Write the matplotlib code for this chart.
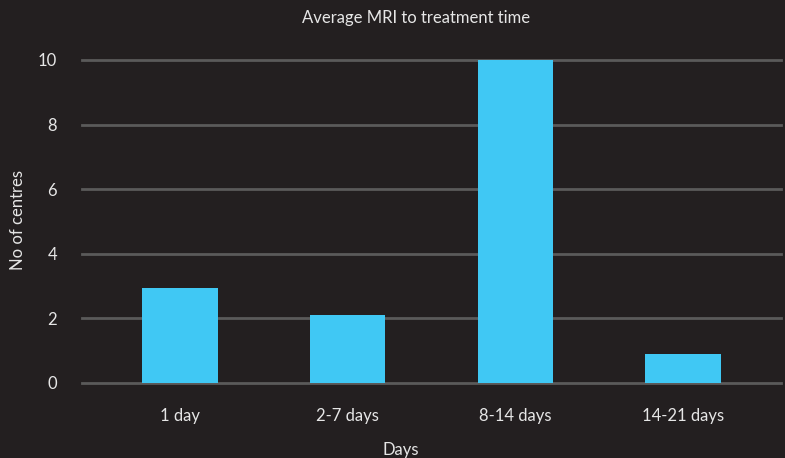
import matplotlib.pyplot as plt

categories = ['1 day', '2-7 days', '8-14 days', '14-21 days']
centres = [2.95, 2.1, 10, 0.9]
yticks = [0, 2, 4, 6, 8, 10]

bg = '#231f20'
bar_color = '#40c8f4'
text_color = '#e6e6e6'
grid_color = '#5a5a5a'

plt.rcParams['font.family'] = ['Lato', 'DejaVu Sans']


def making_graph():
    fig = plt.figure(figsize=(7.85, 4.58), dpi=100, facecolor=bg)
    ax = fig.add_axes([0.1045, 0.1638, 0.8905, 0.7052], facecolor=bg)

    x = range(len(categories))
    ax.bar(x, centres, width=0.45, color=bar_color, zorder=3)

    ax.set_xlim(-0.585, 3.585)
    ax.set_ylim(0, 10)
    ax.set_yticks(yticks)
    ax.set_xticks(list(x))
    ax.set_xticklabels(categories)

    for y in yticks:
        ax.axhline(y, color=grid_color, linewidth=2, zorder=1, clip_on=False)

    for s in ax.spines.values():
        s.set_visible(False)
    ax.tick_params(axis='both', length=0, colors=text_color, labelsize=12)
    ax.tick_params(axis='y', pad=18)
    ax.tick_params(axis='x', pad=18)

    fig.text(0.53, 0.96, 'Average MRI to treatment time', ha='center', va='center',
             color=text_color, fontsize=12)
    fig.text(0.51, 0.018, 'Days', ha='center', va='center',
             color=text_color, fontsize=12)
    fig.text(0.023, 0.52, 'No of centres', ha='center', va='center', rotation=90,
             color=text_color, fontsize=12)

    fig.savefig('out.png', dpi=100, facecolor=bg)


if __name__ == "__main__":
    making_graph()
